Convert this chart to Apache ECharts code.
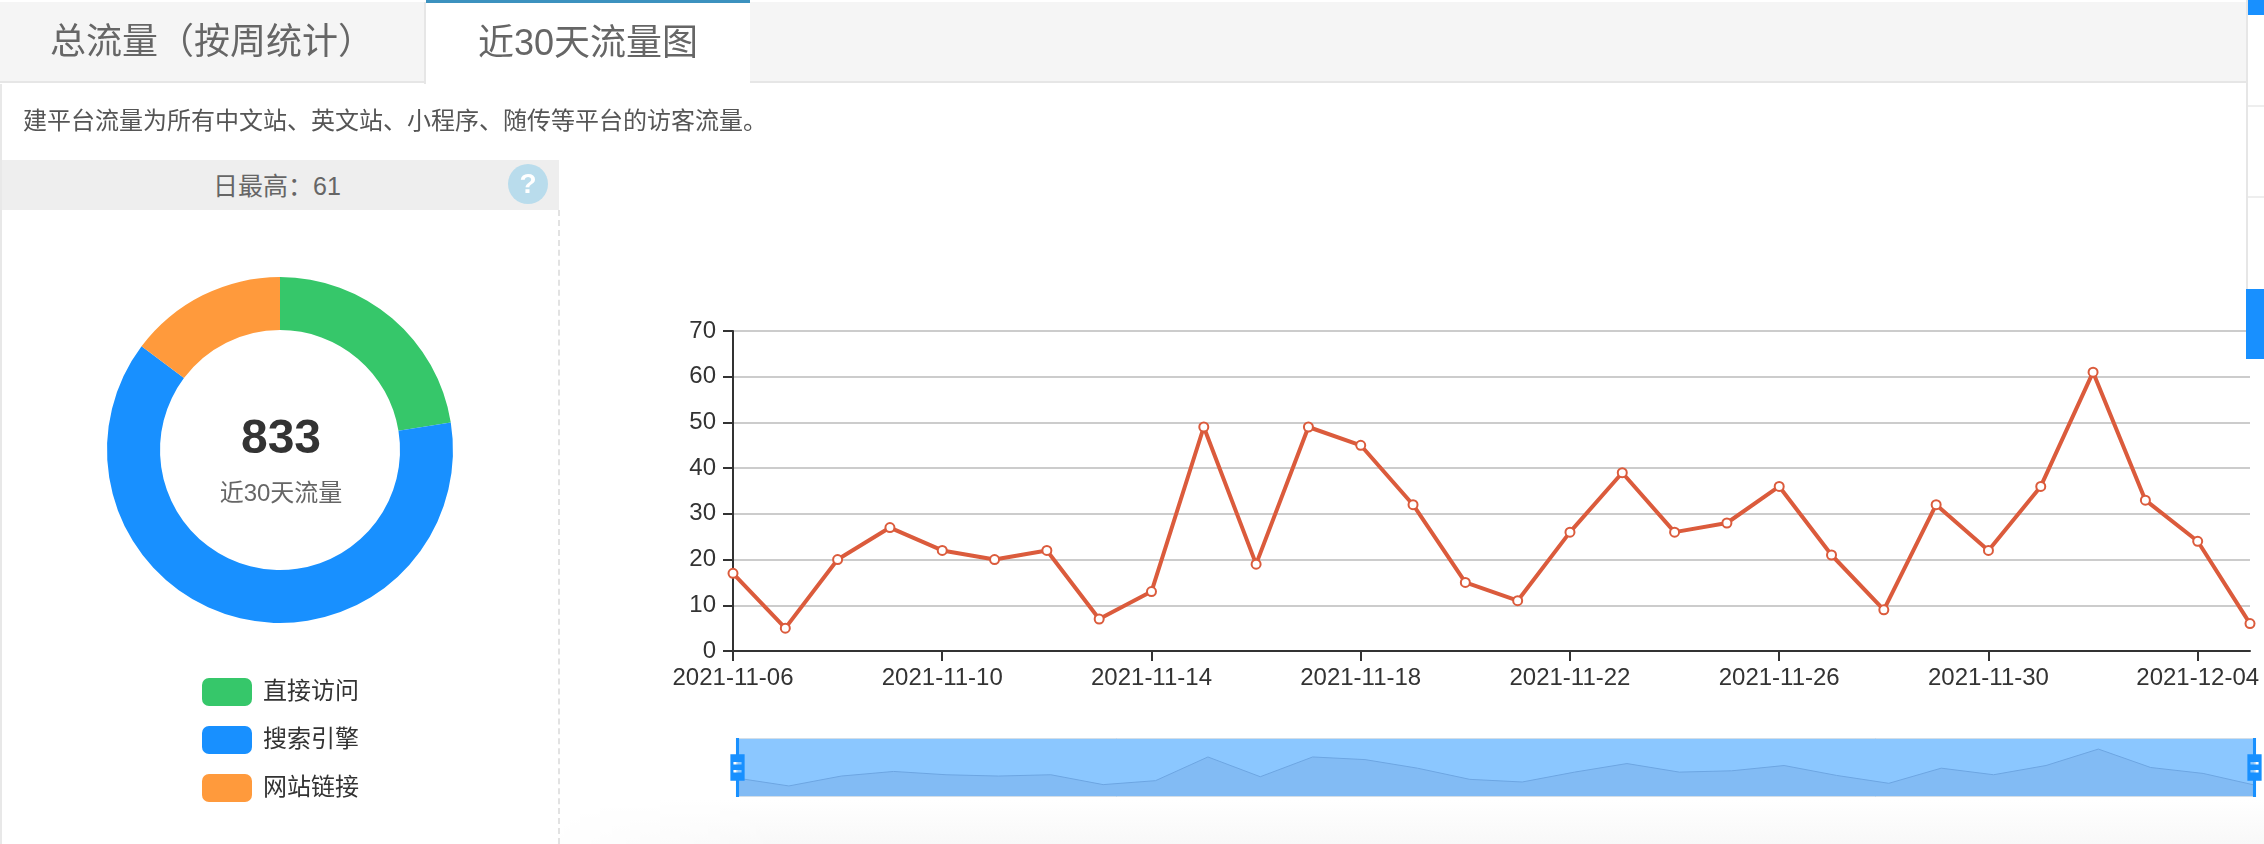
<!DOCTYPE html>
<html>
<head>
    <meta charset="utf-8">
    <title>近30天流量图</title>
    <script src="https://cdn.jsdelivr.net/npm/echarts@6/dist/echarts.min.js"></script>
    <style>
        html, body { margin: 0; padding: 0; background: #fff; overflow: hidden; }
        body { width: 2264px; height: 844px; position: relative; font-family: 'Liberation Sans', 'Noto Sans CJK SC', sans-serif; }
        #echarts-main { position: absolute; left: 0; top: 0; width: 2264px; height: 844px; }
        .box { position: absolute; box-sizing: border-box; }
        .tab-bar { left: 0; top: 2px; width: 2246px; height: 81px; background: #f5f5f5; border-bottom: 2px solid #e6e6e6; }
        .tab { top: 2px; height: 82px; line-height: 80px; font-size: 36px; color: #666; text-align: center; }
        .tab-1 { left: 0; width: 426px; border-right: 2px solid #e6e6e6; }
        .tab-2 { left: 426px; width: 324px; top: 0; height: 84px; background: #fff; border-top: 3px solid #3c92bf; }
        .note { left: 23px; top: 103px; font-size: 24px; line-height: 36px; color: #555; white-space: nowrap; }
        .day-max { left: 0; top: 160px; width: 554px; height: 50px; line-height: 52px; background: #eee; color: #666; font-size: 25px; text-align: center; }
        .help { left: 508px; top: 164px; width: 40px; height: 40px; line-height: 40px; border-radius: 50%; background: #b9dcec; color: #fff; font-size: 28px; font-weight: bold; text-align: center; }
        .day-bg { left: 554px; top: 160px; width: 5px; height: 50px; background: #eee; }
        .dash { left: 558px; top: 210px; width: 0; height: 634px; border-left: 2px dashed #e2e2e2; }
        .left-line { left: 0; top: 84px; width: 2px; height: 760px; background: #e8e8e8; }
        .fade { left: 540px; top: 800px; width: 1724px; height: 44px; background: linear-gradient(#fff, #f8f8f8);
            -webkit-mask-image: linear-gradient(to right, transparent, #000 240px); mask-image: linear-gradient(to right, transparent, #000 240px); }
        .scroll-line { left: 2246px; top: 0; width: 2px; height: 289px; background: #e6e6e6; }
        .scroll-blue { background: #1890ff; }
        .scroll-sep { left: 2248px; width: 16px; height: 2px; background: #eee; }
    </style>
</head>
<body>
<div class="box fade"></div>
<div id="echarts-main"></div>
<div class="box tab-bar"></div>
<div class="box tab tab-1">总流量（按周统计）</div>
<div class="box tab tab-2">近30天流量图</div>
<div class="box note">建平台流量为所有中文站、英文站、小程序、随传等平台的访客流量。</div>
<div class="box day-max">日最高：61</div>
<div class="box day-bg"></div>
<div class="box help">?</div>
<div class="box dash"></div>
<div class="box left-line"></div>
<div class="box scroll-line"></div>
<div class="box scroll-blue" style="left:2248px;top:0;width:16px;height:15px"></div>
<div class="box scroll-sep" style="top:105px"></div>
<div class="box scroll-sep" style="top:196px"></div>
<div class="box scroll-blue" style="left:2246px;top:289px;width:18px;height:70px"></div>
<script>
    var dates = ['2021-11-06', '2021-11-07', '2021-11-08', '2021-11-09', '2021-11-10', '2021-11-11',
        '2021-11-12', '2021-11-13', '2021-11-14', '2021-11-15', '2021-11-16', '2021-11-17',
        '2021-11-18', '2021-11-19', '2021-11-20', '2021-11-21', '2021-11-22', '2021-11-23',
        '2021-11-24', '2021-11-25', '2021-11-26', '2021-11-27', '2021-11-28', '2021-11-29',
        '2021-11-30', '2021-12-01', '2021-12-02', '2021-12-03', '2021-12-04', '2021-12-05'];
    var visits = [17, 5, 20, 27, 22, 20, 22, 7, 13, 49, 19, 49, 45, 32, 15, 11, 26, 39, 26, 28, 36, 21, 9, 32, 22, 36, 61, 33, 24, 6];
    var sourceNames = ['直接访问', '搜索引擎', '网站链接'];
    var sourceValues = [187, 523, 123];
    var sourceColors = ['#36c76a', '#1890ff', '#ff9a3c'];
    var totalLabel = '833';
    var totalName = '近30天流量';

    var fontName = "'Liberation Sans', 'Noto Sans CJK SC', sans-serif";
    var handlePath = 'path://M-1.5,0 L1.5,0 L1.5,16 L7,16 L7,42 L1.5,42 L1.5,58 L-1.5,58 L-1.5,42 L-7,42 L-7,16 L-1.5,16 Z '
        + 'M-4,24 L-4,26.5 L4,26.5 L4,24 Z M-4,32 L-4,34.5 L4,34.5 L4,32 Z';

    var pieData = sourceNames.map(function (name, i) {
        return {name: name, value: sourceValues[i], itemStyle: {color: sourceColors[i]}};
    });

    var chart = echarts.init(document.getElementById('echarts-main'));
    chart.setOption({
        animation: false,
        textStyle: {fontFamily: fontName},
        title: [
            {text: totalLabel, left: 276, top: 411, textAlign: 'center', textStyle: {fontSize: 48, fontWeight: 'bold', color: '#333', fontFamily: fontName}},
            {text: totalName, left: 276, top: 477, textAlign: 'center', textStyle: {fontSize: 24, fontWeight: 'normal', color: '#666', fontFamily: fontName}}
        ],
        legend: {
            orient: 'vertical',
            left: 197,
            top: 673,
            itemWidth: 50,
            itemHeight: 28,
            itemGap: 20,
            icon: 'roundRect',
            selectedMode: false,
            data: sourceNames,
            textStyle: {fontSize: 24, color: '#333', padding: [0, 0, 0, 6], fontFamily: fontName}
        },
        grid: {left: 733, top: 331, width: 1517, height: 320},
        xAxis: {
            type: 'category',
            boundaryGap: false,
            data: dates,
            axisLine: {lineStyle: {color: '#333', width: 2}},
            axisTick: {show: true, length: 10, interval: 3, lineStyle: {color: '#333', width: 2}},
            axisLabel: {interval: 3, fontSize: 24, color: '#333', margin: 15, hideOverlap: false, fontFamily: fontName},
            splitLine: {show: false}
        },
        yAxis: {
            type: 'value',
            min: 0,
            max: 70,
            interval: 10,
            axisLine: {show: true, lineStyle: {color: '#333', width: 2}},
            axisTick: {show: true, length: 10, lineStyle: {color: '#333', width: 2}},
            axisLabel: {fontSize: 24, color: '#333', margin: 17, fontFamily: fontName},
            splitLine: {show: true, lineStyle: {color: '#ccc', width: 2}}
        },
        dataZoom: [{
            type: 'slider',
            xAxisIndex: 0,
            start: 0,
            end: 100,
            left: 734,
            width: 1519,
            top: 738,
            height: 59,
            showDetail: false,
            brushSelect: false,
            moveHandleSize: 0,
            handleIcon: handlePath,
            handleSize: '100%',
            handleStyle: {color: '#1890ff', borderWidth: 0},
            fillerColor: 'rgba(24,144,255,0.5)',
            borderColor: '#d3dee8',
            backgroundColor: 'rgba(0,0,0,0)',
            dataBackground: {lineStyle: {color: '#c2bcc5', width: 1}, areaStyle: {color: '#ece6e8', opacity: 1}},
            selectedDataBackground: {lineStyle: {color: '#c2bcc5', width: 1}, areaStyle: {color: '#ece6e8', opacity: 1}}
        }],
        series: [
            {
                name: '流量',
                type: 'line',
                data: visits,
                smooth: false,
                symbol: 'circle',
                symbolSize: 9,
                showAllSymbol: true,
                clip: false,
                lineStyle: {color: '#db5b3c', width: 4},
                itemStyle: {color: '#fff', borderColor: '#db5b3c', borderWidth: 2}
            },
            {
                name: '访问来源',
                type: 'pie',
                center: [280, 450],
                radius: [120, 173],
                startAngle: 90,
                label: {show: false},
                labelLine: {show: false},
                silent: true,
                data: pieData
            }
        ]
    });
</script>
</body>
</html>
